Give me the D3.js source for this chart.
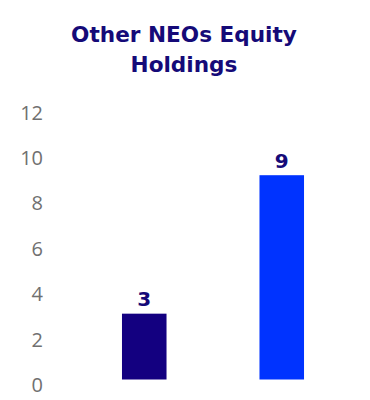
<!DOCTYPE html>
<html>
<head>
<meta charset="utf-8">
<script src="https://cdn.jsdelivr.net/npm/d3@7"></script>
<style>
  html, body { margin: 0; padding: 0; background: #ffffff; }
  svg { display: block; }
</style>
</head>
<body>
<div id="chart"></div>
<script>
const titleLines = ["Other NEOs Equity", "Holdings"];
const categories = ["Other NEOs", "Guideline"];
const values = [2.9, 9];
const valueLabels = ["3", "9"];
const barColors = ["#130080", "#0033ff"];
const yTicks = [0, 2, 4, 6, 8, 10, 12];

const W = 370, H = 400;
const svg = d3.select("#chart").append("svg").attr("width", W).attr("height", H);

const title = svg.append("text")
  .attr("x", 184).attr("y", 42)
  .attr("text-anchor", "middle")
  .attr("fill", "#150a78")
  .style("font-family", "'DejaVu Sans', sans-serif")
  .style("font-weight", "bold")
  .style("font-size", "21.6px");
titleLines.forEach((t, i) => {
  title.append("tspan").attr("x", 184).attr("dy", i === 0 ? 0 : 30).text(t);
});

const x = d3.scaleBand().domain(categories).range([75.5, 350.5])
  .paddingInner(0.676).paddingOuter(0.338);
const y = d3.scaleLinear().domain([0, 12]).range([379.5, 107.1]);

const yAxis = svg.append("g").attr("transform", "translate(49,0)")
  .call(d3.axisLeft(y).tickValues(yTicks).tickSize(0).tickPadding(6).tickFormat(d3.format("d")));
yAxis.select(".domain").remove();
yAxis.selectAll("text")
  .attr("dy", "0.32em").attr("y", 5.5)
  .attr("fill", "#707070")
  .style("font-family", "'Open Sans', sans-serif")
  .style("font-size", "20px");

svg.selectAll("rect.bar").data(values).enter().append("rect")
  .attr("class", "bar")
  .attr("x", (d, i) => x(categories[i]))
  .attr("width", x.bandwidth())
  .attr("y", d => y(d))
  .attr("height", d => y(0) - y(d))
  .attr("fill", (d, i) => barColors[i]);

svg.selectAll("text.val").data(values).enter().append("text")
  .attr("class", "val")
  .attr("x", (d, i) => x(categories[i]) + x.bandwidth() / 2)
  .attr("y", d => y(d) - 7.5)
  .attr("text-anchor", "middle")
  .attr("fill", "#150a78")
  .style("font-family", "'DejaVu Sans', sans-serif")
  .style("font-weight", "bold")
  .style("font-size", "20px")
  .text((d, i) => valueLabels[i]);
</script>
</body>
</html>
